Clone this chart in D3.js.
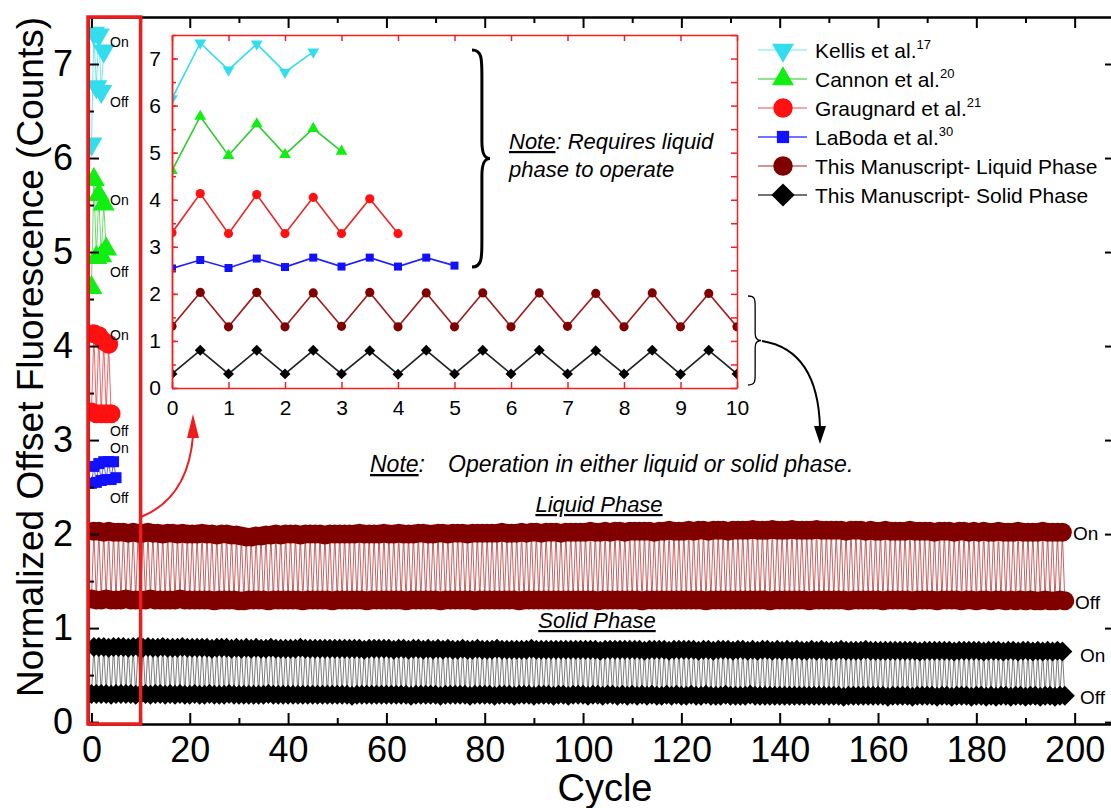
<!DOCTYPE html>
<html lang="en">
<head>
<meta charset="utf-8">
<title>Fluorescence on/off cycling</title>
<script src="https://d3js.org/d3.v7.min.js"></script>
<style>
  body { margin: 0; background: #fff; }
  svg { display: block; background: #fff; }
</style>
</head>
<body>
<svg width="1111" height="808"></svg>
<script>
// literature data, one reading every half cycle (off at whole cycles, on at .5)
var kellis    = [6.15, 7.33, 6.76, 7.31, 6.71, 7.14];
var cannon    = [4.62, 5.77, 4.94, 5.61, 4.96, 5.51, 5.03];
var graugnard = [3.30, 4.13, 3.28, 4.11, 3.28, 4.05, 3.28, 4.02, 3.28];
var laboda    = [2.54, 2.72, 2.55, 2.75, 2.57, 2.77, 2.58, 2.77, 2.58, 2.77, 2.60];

// this manuscript, liquid phase: "off" at cycles 0..198, "on" at cycles 0.5..197.5
var liquidOff = [
 1.31,1.30,1.30,1.31,1.30,1.30,1.30,1.31,1.30,1.30, 1.30,1.30,1.31,1.30,1.30,1.30,1.30,1.30,1.31,1.30,
 1.30,1.30,1.30,1.30,1.30,1.29,1.30,1.30,1.30,1.30, 1.29,1.29,1.30,1.30,1.30,1.30,1.29,1.30,1.30,1.30,
 1.30,1.30,1.30,1.29,1.30,1.30,1.30,1.30,1.30,1.29, 1.30,1.30,1.30,1.30,1.30,1.30,1.29,1.30,1.30,1.30,
 1.30,1.30,1.30,1.30,1.29,1.30,1.30,1.30,1.30,1.30, 1.30,1.29,1.30,1.30,1.30,1.30,1.30,1.30,1.29,1.30,
 1.30,1.30,1.30,1.30,1.30,1.30,1.30,1.29,1.30,1.30, 1.30,1.30,1.30,1.30,1.30,1.30,1.30,1.30,1.30,1.30,
 1.30,1.30,1.30,1.29,1.30,1.30,1.30,1.30,1.30,1.30, 1.30,1.30,1.29,1.30,1.30,1.30,1.30,1.30,1.30,1.30,
 1.30,1.30,1.30,1.30,1.30,1.29,1.30,1.30,1.30,1.30, 1.30,1.30,1.30,1.30,1.30,1.30,1.30,1.30,1.29,1.30,
 1.30,1.30,1.30,1.30,1.30,1.30,1.29,1.30,1.30,1.30, 1.30,1.30,1.30,1.30,1.29,1.30,1.30,1.30,1.30,1.30,
 1.30,1.29,1.30,1.30,1.30,1.30,1.30,1.29,1.30,1.30, 1.30,1.30,1.29,1.30,1.30,1.30,1.30,1.29,1.30,1.30,
 1.29,1.30,1.30,1.29,1.30,1.30,1.29,1.30,1.29,1.30, 1.29,1.30,1.29,1.29,1.30,1.29,1.29,1.30,1.29];
var liquidOn = [
 2.03,2.03,2.02,2.03,2.02,2.02,2.02,2.01,2.02,2.01, 2.01,2.02,2.01,2.01,2.00,2.01,2.01,2.00,2.01,2.00,
 2.00,2.00,2.01,2.00,2.00,1.99,2.00,2.00,1.99,1.99, 1.98,1.97,1.97,1.98,1.98,1.99,1.99,2.00,1.99,2.00,
 2.00,2.00,1.99,2.00,2.00,2.00,2.00,1.99,2.00,2.00, 2.00,2.00,2.00,2.00,2.01,2.00,2.00,2.00,2.00,2.01,
 2.00,2.00,2.01,2.00,2.00,2.00,2.01,2.01,2.00,2.00, 2.01,2.01,2.00,2.01,2.01,2.01,2.00,2.01,2.01,2.01,
 2.01,2.01,2.01,2.02,2.01,2.01,2.01,2.02,2.01,2.02, 2.02,2.01,2.02,2.02,2.02,2.01,2.02,2.02,2.02,2.02,
 2.02,2.03,2.02,2.02,2.03,2.02,2.03,2.03,2.02,2.03, 2.03,2.03,2.03,2.03,2.02,2.03,2.03,2.04,2.03,2.03,
 2.03,2.04,2.03,2.04,2.04,2.03,2.04,2.04,2.04,2.03, 2.04,2.04,2.04,2.04,2.05,2.04,2.04,2.04,2.05,2.04,
 2.04,2.04,2.05,2.04,2.04,2.04,2.04,2.05,2.04,2.04, 2.04,2.04,2.04,2.03,2.04,2.04,2.04,2.03,2.04,2.03,
 2.03,2.04,2.03,2.03,2.03,2.03,2.04,2.03,2.03,2.03, 2.03,2.02,2.03,2.03,2.03,2.02,2.03,2.03,2.02,2.03,
 2.02,2.03,2.02,2.02,2.03,2.02,2.02,2.02,2.03,2.02, 2.02,2.02,2.02,2.03,2.02,2.02,2.02,2.02];

// this manuscript, solid phase
var solidOff = [
 0.30,0.30,0.30,0.30,0.29,0.30,0.30,0.30,0.30,0.29, 0.30,0.30,0.29,0.30,0.30,0.29,0.30,0.29,0.30,0.29,
 0.29,0.30,0.29,0.29,0.30,0.29,0.29,0.29,0.30,0.29, 0.29,0.29,0.29,0.29,0.29,0.29,0.30,0.29,0.29,0.29,
 0.29,0.29,0.29,0.29,0.29,0.29,0.29,0.29,0.29,0.29, 0.29,0.29,0.29,0.28,0.29,0.29,0.29,0.29,0.29,0.29,
 0.29,0.29,0.29,0.29,0.29,0.28,0.29,0.29,0.29,0.29, 0.29,0.28,0.29,0.29,0.29,0.29,0.29,0.28,0.29,0.29,
 0.29,0.29,0.28,0.29,0.29,0.29,0.28,0.29,0.29,0.29, 0.28,0.29,0.29,0.29,0.28,0.29,0.29,0.28,0.29,0.29,
 0.29,0.28,0.29,0.29,0.28,0.29,0.29,0.28,0.29,0.28, 0.29,0.28,0.29,0.28,0.29,0.28,0.28,0.29,0.28,0.29,
 0.28,0.28,0.29,0.28,0.28,0.29,0.28,0.28,0.28,0.29, 0.28,0.28,0.28,0.28,0.29,0.28,0.28,0.28,0.28,0.28,
 0.28,0.28,0.28,0.28,0.28,0.28,0.28,0.28,0.28,0.28, 0.28,0.28,0.28,0.27,0.28,0.28,0.28,0.28,0.28,0.28,
 0.28,0.28,0.27,0.28,0.28,0.28,0.28,0.27,0.28,0.28, 0.28,0.28,0.27,0.28,0.28,0.27,0.28,0.28,0.28,0.27,
 0.28,0.28,0.27,0.28,0.27,0.28,0.28,0.27,0.28,0.28, 0.27,0.28,0.28,0.27,0.28,0.28,0.27,0.28,0.28];
var solidOn = [
 0.80,0.80,0.80,0.79,0.80,0.80,0.80,0.79,0.80,0.80, 0.79,0.80,0.79,0.79,0.80,0.79,0.79,0.79,0.80,0.79,
 0.79,0.79,0.79,0.79,0.78,0.79,0.79,0.79,0.78,0.79, 0.78,0.79,0.78,0.79,0.78,0.78,0.79,0.78,0.78,0.78,
 0.78,0.78,0.79,0.78,0.78,0.78,0.78,0.78,0.78,0.78, 0.78,0.78,0.78,0.78,0.78,0.77,0.78,0.78,0.78,0.78,
 0.78,0.77,0.78,0.78,0.77,0.78,0.78,0.77,0.78,0.77, 0.78,0.77,0.78,0.77,0.77,0.78,0.77,0.77,0.78,0.77,
 0.77,0.77,0.78,0.77,0.77,0.77,0.77,0.77,0.77,0.78, 0.77,0.77,0.77,0.77,0.77,0.77,0.77,0.77,0.77,0.77,
 0.77,0.77,0.77,0.76,0.77,0.77,0.77,0.77,0.77,0.77, 0.77,0.77,0.76,0.77,0.77,0.77,0.77,0.76,0.77,0.77,
 0.77,0.77,0.77,0.76,0.77,0.77,0.76,0.77,0.77,0.77, 0.76,0.77,0.77,0.76,0.77,0.76,0.77,0.77,0.76,0.77,
 0.76,0.77,0.76,0.77,0.76,0.76,0.77,0.76,0.77,0.76, 0.76,0.76,0.77,0.76,0.76,0.76,0.76,0.77,0.76,0.76,
 0.76,0.76,0.76,0.76,0.76,0.76,0.76,0.76,0.75,0.76, 0.76,0.76,0.76,0.76,0.76,0.75,0.76,0.76,0.76,0.76,
 0.76,0.75,0.76,0.76,0.76,0.75,0.76,0.76,0.75,0.76, 0.76,0.75,0.76,0.75,0.76,0.75,0.76,0.75];

var mainXTicks = [0, 20, 40, 60, 80, 100, 120, 140, 160, 180, 200];
var mainYTicks = [0, 1, 2, 3, 4, 5, 6, 7];
var insetXTicks = [0, 1, 2, 3, 4, 5, 6, 7, 8, 9, 10];
var insetYTicks = [0, 1, 2, 3, 4, 5, 6, 7];

var font = '"Liberation Sans", Arial, sans-serif';

function halfSteps(vals) { return vals.map(function(v, i) { return [i * 0.5, v]; }); }
function interleave(off, on) {
  var pts = [];
  off.forEach(function(v, i) {
    pts.push([i, v]);
    if (i < on.length) pts.push([i + 0.5, on[i]]);
  });
  return pts;
}

// mainLine = thin zigzag in the big plot, line = inset line
var series = [
  {name: "Kellis et al.", ref: "17", pts: halfSteps(kellis), shape: "down", color: "#33ddee", line: "#33ddee", mainLine: "#33ddee", legLine: "#9eeef6"},
  {name: "Cannon et al.", ref: "20", pts: halfSteps(cannon), shape: "up", color: "#11ee11", line: "#2ecc2e", mainLine: "#2ecc2e", legLine: "#66dd66"},
  {name: "Graugnard et al.", ref: "21", pts: halfSteps(graugnard), shape: "circle", color: "#ff1111", line: "#ee2222", mainLine: "#ee2222", legLine: "#ee8888"},
  {name: "LaBoda et al.", ref: "30", pts: halfSteps(laboda), shape: "square", color: "#1111ff", line: "#2020ff", mainLine: "#2020ff", legLine: "#4444ff"},
  {name: "This Manuscript- Liquid Phase", ref: "", pts: interleave(liquidOff, liquidOn), shape: "circle", color: "#800000", line: "#a01818", mainLine: "#b02020", legLine: "#c07070"},
  {name: "This Manuscript- Solid Phase", ref: "", pts: interleave(solidOff, solidOn), shape: "diamond", color: "#000000", line: "#222222", mainLine: "#444444", legLine: "#444444"}
];

var mainSize  = {down: 210, up: 210, circle: 283, square: 121, diamond: 200};
var insetSize = {down: 60, up: 60, circle: 66, square: 64, diamond: 60};
var legSize   = {down: 210, up: 210, circle: 300, square: 150, diamond: 270};

function sym(shape, size) {
  var t = {down: d3.symbolTriangle, up: d3.symbolTriangle, circle: d3.symbolCircle,
           square: d3.symbolSquare, diamond: d3.symbolSquare}[shape];
  return d3.symbol().type(t).size(size)();
}
function rot(shape) {
  if (shape == "down") return " rotate(180)";
  if (shape == "diamond") return " rotate(45)";
  return "";
}

var svg = d3.select("svg");
var defs = svg.append("defs");

// main scales
var x = d3.scaleLinear().domain([-0.7, 207.8]).range([88, 1113]);
var y = d3.scaleLinear().domain([-0.02, 7.5]).range([724, 17]);

defs.append("clipPath").attr("id", "mainClip").append("rect")
  .attr("x", 88).attr("y", 17).attr("width", 1025).attr("height", 707);

function styleAxis(g, color, width, fs) {
  g.attr("font-family", font).attr("font-size", fs);
  g.select(".domain").attr("stroke", color).attr("stroke-width", width);
  g.selectAll(".tick line").attr("stroke", color).attr("stroke-width", width);
  g.selectAll(".tick text").attr("fill", "#000");
}

// main plot series
var plot = svg.append("g").attr("clip-path", "url(#mainClip)");
var lineMain = d3.line().x(function(d) { return x(d[0]); }).y(function(d) { return y(d[1]); });
series.forEach(function(s) {
  plot.append("path").datum(s.pts)
    .attr("fill", "none").attr("stroke", s.mainLine).attr("stroke-width", 0.7)
    .attr("d", lineMain);
  plot.append("g").selectAll("path").data(s.pts).enter().append("path")
    .attr("transform", function(d) { return "translate(" + x(d[0]) + "," + y(d[1]) + ")" + rot(s.shape); })
    .attr("d", sym(s.shape, mainSize[s.shape]))
    .attr("fill", s.color);
});

// main axes
var minorX = d3.range(10, 210, 20);
var minorY = [0.5, 1.5, 2.5, 3.5, 4.5, 5.5, 6.5];
svg.append("g").attr("transform", "translate(0,724)")
  .call(d3.axisBottom(x).tickValues(mainXTicks).tickSizeInner(-11).tickSizeOuter(0).tickPadding(12))
  .call(styleAxis, "#000", 2, 36);
svg.append("g").attr("transform", "translate(0,724)")
  .call(d3.axisBottom(x).tickValues(minorX).tickSizeInner(-6).tickSizeOuter(0).tickFormat(""))
  .call(styleAxis, "#000", 2, 36);
svg.append("g").attr("transform", "translate(0,17)")
  .call(d3.axisTop(x).tickValues(mainXTicks).tickSizeInner(-11).tickSizeOuter(0).tickFormat(""))
  .call(styleAxis, "#000", 2, 36);
svg.append("g").attr("transform", "translate(0,17)")
  .call(d3.axisTop(x).tickValues(minorX).tickSizeInner(-6).tickSizeOuter(0).tickFormat(""))
  .call(styleAxis, "#000", 2, 36);
svg.append("g").attr("transform", "translate(88,0)")
  .call(d3.axisLeft(y).tickValues(mainYTicks).tickSizeInner(-11).tickSizeOuter(0).tickPadding(15))
  .call(styleAxis, "#000", 2, 36);
svg.append("g").attr("transform", "translate(88,0)")
  .call(d3.axisLeft(y).tickValues(minorY).tickSizeInner(-6).tickSizeOuter(0).tickFormat(""))
  .call(styleAxis, "#000", 2, 36);
svg.append("g").attr("transform", "translate(1113,0)")
  .call(d3.axisRight(y).tickValues(mainYTicks).tickSizeInner(-8).tickSizeOuter(0).tickFormat(""))
  .call(styleAxis, "#000", 2, 36);

// axis titles
svg.append("text").attr("transform", "translate(43,357) rotate(-90)")
  .attr("text-anchor", "middle").attr("font-family", font).attr("font-size", 37)
  .text("Normalized Offset Fluorescence (Counts)");
svg.append("text").attr("x", 605).attr("y", 801)
  .attr("text-anchor", "middle").attr("font-family", font).attr("font-size", 38)
  .text("Cycle");

// On / Off tags
var tagsLeft = [["On", 47], ["Off", 107], ["On", 205], ["Off", 277], ["On", 340], ["Off", 436], ["On", 453], ["Off", 503]];
svg.append("g").selectAll("text").data(tagsLeft).enter().append("text")
  .attr("x", 110).attr("y", function(d) { return d[1]; })
  .attr("font-family", font).attr("font-size", 14).text(function(d) { return d[0]; });
var tagsRight = [["On", 1073, 540], ["Off", 1075, 609], ["On", 1080, 662], ["Off", 1080, 704]];
svg.append("g").selectAll("text").data(tagsRight).enter().append("text")
  .attr("x", function(d) { return d[1]; }).attr("y", function(d) { return d[2]; })
  .attr("font-family", font).attr("font-size", 19).text(function(d) { return d[0]; });

// phase labels and note
function noteText(xp, yp, fs, anchor) {
  return svg.append("text").attr("x", xp).attr("y", yp).attr("font-family", font)
    .attr("font-size", fs).attr("font-style", "italic").attr("text-anchor", anchor || "start");
}
noteText(599, 512, 22, "middle").style("text-decoration", "underline").text("Liquid Phase");
noteText(597, 628, 22, "middle").style("text-decoration", "underline").text("Solid Phase");
var n1 = noteText(370, 472, 23);
n1.append("tspan").style("text-decoration", "underline").text("Note");
n1.append("tspan").text(":");
n1.append("tspan").attr("x", 448).text("Operation in either liquid or solid phase.");

// highlight box for cycles 0-10
svg.append("rect").attr("x", x(-0.7)).attr("y", 17)
  .attr("width", x(10) - x(-0.7)).attr("height", 707)
  .attr("fill", "none").attr("stroke", "#ee1c1c").attr("stroke-width", 3.5);

// red arrow from box to inset
svg.append("path").attr("d", "M141,517 Q188,498 193,436")
  .attr("fill", "none").attr("stroke", "#ee1c1c").attr("stroke-width", 2);
svg.append("path").attr("d", "M187,438 L199,438 L193,414 Z").attr("fill", "#ee1c1c");

// ---------- inset ----------
var ix = d3.scaleLinear().domain([0, 10]).range([172, 737]);
var iy = d3.scaleLinear().domain([0, 7.5]).range([388, 35]);

svg.append("rect").attr("x", 172).attr("y", 35).attr("width", 565).attr("height", 353)
  .attr("fill", "#fff");
defs.append("clipPath").attr("id", "insetClip").append("rect")
  .attr("x", 172).attr("y", 35).attr("width", 565).attr("height", 353);

var inset = svg.append("g").attr("clip-path", "url(#insetClip)");
var lineInset = d3.line().x(function(d) { return ix(d[0]); }).y(function(d) { return iy(d[1]); });
series.forEach(function(s) {
  var pts = s.pts.filter(function(d) { return d[0] <= 10; });
  inset.append("path").datum(pts)
    .attr("fill", "none").attr("stroke", s.line).attr("stroke-width", 1.6)
    .attr("d", lineInset);
  inset.append("g").selectAll("path").data(pts).enter().append("path")
    .attr("transform", function(d) { return "translate(" + ix(d[0]) + "," + iy(d[1]) + ")" + rot(s.shape); })
    .attr("d", sym(s.shape, insetSize[s.shape]))
    .attr("fill", s.color);
});

var insetHalf = d3.range(0, 7.51, 0.5);
svg.append("g").attr("transform", "translate(0,388)")
  .call(d3.axisBottom(ix).tickValues(insetXTicks).tickSizeInner(-6).tickSizeOuter(0).tickPadding(12))
  .call(styleAxis, "#ee2222", 1.5, 21);
svg.append("g").attr("transform", "translate(0,35)")
  .call(d3.axisTop(ix).tickValues(insetXTicks).tickSizeInner(-6).tickSizeOuter(0).tickFormat(""))
  .call(styleAxis, "#ee2222", 1.5, 21);
svg.append("g").attr("transform", "translate(172,0)")
  .call(d3.axisLeft(iy).tickValues(insetYTicks).tickSizeInner(-6).tickSizeOuter(0).tickPadding(11))
  .call(styleAxis, "#ee2222", 1.5, 21);
svg.append("g").attr("transform", "translate(172,0)")
  .call(d3.axisLeft(iy).tickValues(insetHalf).tickSizeInner(-4).tickSizeOuter(0).tickFormat(""))
  .call(styleAxis, "#ee2222", 1.5, 21);
svg.append("g").attr("transform", "translate(737,0)")
  .call(d3.axisRight(iy).tickValues(insetHalf).tickSizeInner(-6).tickSizeOuter(0).tickFormat(""))
  .call(styleAxis, "#ee2222", 1.5, 21);

// braces
function brace(x0, y1, y2, w) {
  var ym = (y1 + y2) / 2, h = y2 - y1, xm = x0 + w * 0.55;
  return "M" + x0 + "," + y1 +
    " C" + xm + "," + y1 + " " + xm + "," + (y1 + h * 0.04) + " " + xm + "," + (y1 + h * 0.12) +
    " L" + xm + "," + (ym - h * 0.08) +
    " C" + xm + "," + (ym - h * 0.02) + " " + (x0 + w * 0.7) + "," + ym + " " + (x0 + w) + "," + ym +
    " C" + (x0 + w * 0.7) + "," + ym + " " + xm + "," + (ym + h * 0.02) + " " + xm + "," + (ym + h * 0.08) +
    " L" + xm + "," + (y2 - h * 0.12) +
    " C" + xm + "," + (y2 - h * 0.04) + " " + xm + "," + y2 + " " + x0 + "," + y2;
}
svg.append("path").attr("d", brace(472, 50, 267, 18))
  .attr("fill", "none").attr("stroke", "#000").attr("stroke-width", 3);
svg.append("path").attr("d", brace(748, 296, 385, 13))
  .attr("fill", "none").attr("stroke", "#000").attr("stroke-width", 1.3);

var n2 = noteText(509, 149, 22);
n2.append("tspan").style("text-decoration", "underline").text("Note");
n2.append("tspan").text(": Requires liquid");
noteText(509, 177, 22).text("phase to operate");

// black arrow from lower brace
svg.append("path").attr("d", "M762,341 Q818,350 820,428")
  .attr("fill", "none").attr("stroke", "#000").attr("stroke-width", 2);
svg.append("path").attr("d", "M814,426 L826,426 L820,444 Z").attr("fill", "#000");

// ---------- legend ----------
var leg = svg.append("g").selectAll("g").data(series).enter().append("g")
  .attr("transform", function(d, i) { return "translate(0," + (50 + i * 29) + ")"; });
leg.append("line").attr("x1", 758).attr("x2", 807)
  .attr("stroke", function(d) { return d.legLine; }).attr("stroke-width", 1.5);
leg.append("path")
  .attr("transform", function(d) { return "translate(783,0)" + rot(d.shape); })
  .attr("d", function(d) { return sym(d.shape, legSize[d.shape]); })
  .attr("fill", function(d) { return d.color; });
var lt = leg.append("text").attr("x", 815).attr("y", 7.5)
  .attr("font-family", font).attr("font-size", 21);
lt.append("tspan").text(function(d) { return d.name; });
lt.append("tspan").attr("font-size", 13).attr("dy", -9)
  .text(function(d) { return d.ref; });
</script>
</body>
</html>
